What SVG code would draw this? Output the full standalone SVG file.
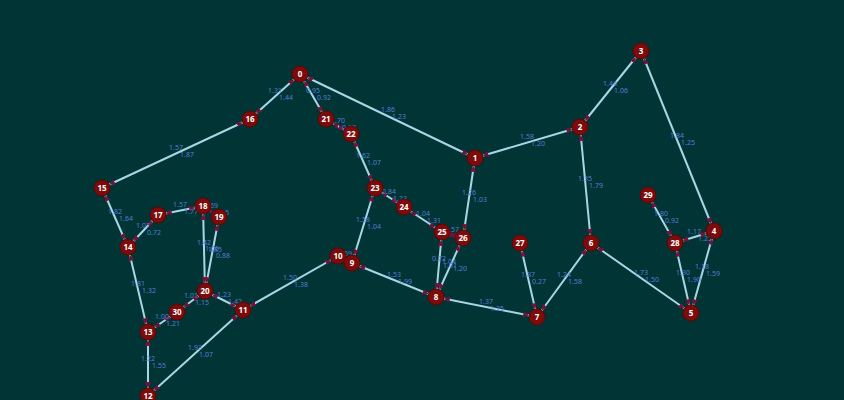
<svg xmlns="http://www.w3.org/2000/svg" width="844" height="400" viewBox="0 0 844 400">
<style>
.e{stroke:#a9d6e6;stroke-width:2;fill:none;marker-start:url(#ah);marker-end:url(#ah)}
.el{font-family:"Noto Sans","Liberation Sans",sans-serif;font-size:7px;fill:#4f7fd6;text-anchor:middle}
.n circle{fill:#7c0b0b;stroke:#5e0606;stroke-width:1}
.n text{font-family:"Noto Sans","Liberation Sans",sans-serif;font-size:8px;font-weight:bold;fill:#ffffff;text-anchor:middle}
</style>
<defs>
<marker id="ah" markerUnits="userSpaceOnUse" markerWidth="6" markerHeight="6" refX="14" refY="3" orient="auto-start-reverse">
<path d="M0,0 L6,3 L0,6 z" fill="#74123c"/>
</marker>
</defs>
<rect width="844" height="400" fill="#013434"/>
<g id="connectors">
<line class="e" x1="300" y1="74" x2="250" y2="119"/>
<line class="e" x1="300" y1="74" x2="326" y2="119"/>
<line class="e" x1="300" y1="74" x2="475" y2="158"/>
<line class="e" x1="250" y1="119" x2="102" y2="188"/>
<line class="e" x1="326" y1="119" x2="351" y2="134"/>
<line class="e" x1="351" y1="134" x2="375" y2="188"/>
<line class="e" x1="475" y1="158" x2="580" y2="127"/>
<line class="e" x1="580" y1="127" x2="641" y2="51"/>
<line class="e" x1="641" y1="51" x2="714" y2="231"/>
<line class="e" x1="475" y1="158" x2="463" y2="238"/>
<line class="e" x1="580" y1="127" x2="591" y2="243"/>
<line class="e" x1="375" y1="188" x2="404" y2="207"/>
<line class="e" x1="404" y1="207" x2="442" y2="232"/>
<line class="e" x1="442" y1="232" x2="463" y2="238"/>
<line class="e" x1="375" y1="188" x2="352" y2="263"/>
<line class="e" x1="442" y1="232" x2="436" y2="297"/>
<line class="e" x1="463" y1="238" x2="436" y2="297"/>
<line class="e" x1="352" y1="263" x2="436" y2="297"/>
<line class="e" x1="338" y1="256" x2="243" y2="310"/>
<line class="e" x1="352" y1="263" x2="338" y2="256"/>
<line class="e" x1="436" y1="297" x2="537" y2="317"/>
<line class="e" x1="520" y1="243" x2="537" y2="317"/>
<line class="e" x1="591" y1="243" x2="537" y2="317"/>
<line class="e" x1="591" y1="243" x2="691" y2="313"/>
<line class="e" x1="648" y1="195" x2="675" y2="243"/>
<line class="e" x1="675" y1="243" x2="714" y2="231"/>
<line class="e" x1="675" y1="243" x2="691" y2="313"/>
<line class="e" x1="714" y1="231" x2="691" y2="313"/>
<line class="e" x1="102" y1="188" x2="128" y2="247"/>
<line class="e" x1="128" y1="247" x2="158" y2="215"/>
<line class="e" x1="158" y1="215" x2="203" y2="206"/>
<line class="e" x1="203" y1="206" x2="219" y2="217"/>
<line class="e" x1="203" y1="206" x2="205" y2="291"/>
<line class="e" x1="219" y1="217" x2="205" y2="291"/>
<line class="e" x1="128" y1="247" x2="148" y2="332"/>
<line class="e" x1="205" y1="291" x2="177" y2="312"/>
<line class="e" x1="205" y1="291" x2="243" y2="310"/>
<line class="e" x1="177" y1="312" x2="148" y2="332"/>
<line class="e" x1="148" y1="332" x2="148" y2="396"/>
<line class="e" x1="243" y1="310" x2="148" y2="396"/>
</g>
<g id="edge-labels">
<text class="el" x="275" y="93">1.31</text><text class="el" x="286" y="100">1.44</text>
<text class="el" x="313" y="93">0.95</text><text class="el" x="324" y="100">0.92</text>
<text class="el" x="388" y="112">1.86</text><text class="el" x="399" y="119">1.23</text>
<text class="el" x="176" y="150">1.57</text><text class="el" x="187" y="157">1.87</text>
<text class="el" x="338" y="123">1.70</text><text class="el" x="349" y="130">0.93</text>
<text class="el" x="363" y="158">1.62</text><text class="el" x="374" y="165">1.07</text>
<text class="el" x="527" y="139">1.58</text><text class="el" x="538" y="146">1.20</text>
<text class="el" x="610" y="86">1.44</text><text class="el" x="621" y="93">1.06</text>
<text class="el" x="677" y="138">1.84</text><text class="el" x="688" y="145">1.25</text>
<text class="el" x="469" y="195">1.26</text><text class="el" x="480" y="202">1.03</text>
<text class="el" x="585" y="181">1.35</text><text class="el" x="596" y="188">1.79</text>
<text class="el" x="389" y="194">0.84</text><text class="el" x="400" y="201">1.23</text>
<text class="el" x="423" y="216">1.04</text><text class="el" x="434" y="223">1.31</text>
<text class="el" x="452" y="232">1.57</text>
<text class="el" x="363" y="222">1.58</text><text class="el" x="374" y="229">1.04</text>
<text class="el" x="439" y="261">0.72</text><text class="el" x="450" y="268">1.01</text>
<text class="el" x="449" y="264">1.04</text><text class="el" x="460" y="271">1.20</text>
<text class="el" x="394" y="277">1.53</text><text class="el" x="405" y="284">1.99</text>
<text class="el" x="290" y="280">1.50</text><text class="el" x="301" y="287">1.38</text>
<text class="el" x="345" y="256">1.59</text>
<text class="el" x="486" y="304">1.37</text><text class="el" x="497" y="311">1.25</text>
<text class="el" x="528" y="277">1.87</text><text class="el" x="539" y="284">0.27</text>
<text class="el" x="564" y="277">1.24</text><text class="el" x="575" y="284">1.58</text>
<text class="el" x="641" y="275">1.73</text><text class="el" x="652" y="282">1.50</text>
<text class="el" x="661" y="216">1.80</text><text class="el" x="672" y="223">0.92</text>
<text class="el" x="694" y="234">1.17</text><text class="el" x="705" y="241">1.25</text>
<text class="el" x="683" y="275">1.30</text><text class="el" x="694" y="282">1.90</text>
<text class="el" x="702" y="269">1.18</text><text class="el" x="713" y="276">1.59</text>
<text class="el" x="115" y="214">1.82</text><text class="el" x="126" y="221">1.64</text>
<text class="el" x="143" y="228">1.07</text><text class="el" x="154" y="235">0.72</text>
<text class="el" x="180" y="207">1.57</text><text class="el" x="191" y="214">1.77</text>
<text class="el" x="211" y="208">1.69</text><text class="el" x="222" y="215">1.15</text>
<text class="el" x="204" y="245">1.42</text><text class="el" x="215" y="252">1.85</text>
<text class="el" x="212" y="251">1.06</text><text class="el" x="223" y="258">0.88</text>
<text class="el" x="138" y="286">1.81</text><text class="el" x="149" y="293">1.32</text>
<text class="el" x="191" y="298">1.01</text><text class="el" x="202" y="305">1.15</text>
<text class="el" x="224" y="297">1.23</text><text class="el" x="235" y="304">1.42</text>
<text class="el" x="162" y="319">1.00</text><text class="el" x="173" y="326">1.21</text>
<text class="el" x="148" y="361">1.22</text><text class="el" x="159" y="368">1.55</text>
<text class="el" x="195" y="350">1.93</text><text class="el" x="206" y="357">1.07</text>
</g>
<g id="node-0" class="n"><circle cx="300" cy="74" r="8"/><text x="300" y="77">0</text></g>
<g id="node-1" class="n"><circle cx="475" cy="158" r="8"/><text x="475" y="161">1</text></g>
<g id="node-2" class="n"><circle cx="580" cy="127" r="8"/><text x="580" y="130">2</text></g>
<g id="node-3" class="n"><circle cx="641" cy="51" r="8"/><text x="641" y="54">3</text></g>
<g id="node-4" class="n"><circle cx="714" cy="231" r="8"/><text x="714" y="234">4</text></g>
<g id="node-5" class="n"><circle cx="691" cy="313" r="8"/><text x="691" y="316">5</text></g>
<g id="node-6" class="n"><circle cx="591" cy="243" r="8"/><text x="591" y="246">6</text></g>
<g id="node-7" class="n"><circle cx="537" cy="317" r="8"/><text x="537" y="320">7</text></g>
<g id="node-8" class="n"><circle cx="436" cy="297" r="8"/><text x="436" y="300">8</text></g>
<g id="node-9" class="n"><circle cx="352" cy="263" r="8"/><text x="352" y="266">9</text></g>
<g id="node-10" class="n"><circle cx="338" cy="256" r="8"/><text x="338" y="259">10</text></g>
<g id="node-11" class="n"><circle cx="243" cy="310" r="8"/><text x="243" y="313">11</text></g>
<g id="node-12" class="n"><circle cx="148" cy="396" r="8"/><text x="148" y="399">12</text></g>
<g id="node-13" class="n"><circle cx="148" cy="332" r="8"/><text x="148" y="335">13</text></g>
<g id="node-14" class="n"><circle cx="128" cy="247" r="8"/><text x="128" y="250">14</text></g>
<g id="node-15" class="n"><circle cx="102" cy="188" r="8"/><text x="102" y="191">15</text></g>
<g id="node-16" class="n"><circle cx="250" cy="119" r="8"/><text x="250" y="122">16</text></g>
<g id="node-17" class="n"><circle cx="158" cy="215" r="8"/><text x="158" y="218">17</text></g>
<g id="node-18" class="n"><circle cx="203" cy="206" r="8"/><text x="203" y="209">18</text></g>
<g id="node-19" class="n"><circle cx="219" cy="217" r="8"/><text x="219" y="220">19</text></g>
<g id="node-20" class="n"><circle cx="205" cy="291" r="8"/><text x="205" y="294">20</text></g>
<g id="node-21" class="n"><circle cx="326" cy="119" r="8"/><text x="326" y="122">21</text></g>
<g id="node-22" class="n"><circle cx="351" cy="134" r="8"/><text x="351" y="137">22</text></g>
<g id="node-23" class="n"><circle cx="375" cy="188" r="8"/><text x="375" y="191">23</text></g>
<g id="node-24" class="n"><circle cx="404" cy="207" r="8"/><text x="404" y="210">24</text></g>
<g id="node-25" class="n"><circle cx="442" cy="232" r="8"/><text x="442" y="235">25</text></g>
<g id="node-26" class="n"><circle cx="463" cy="238" r="8"/><text x="463" y="241">26</text></g>
<g id="node-27" class="n"><circle cx="520" cy="243" r="8"/><text x="520" y="246">27</text></g>
<g id="node-28" class="n"><circle cx="675" cy="243" r="8"/><text x="675" y="246">28</text></g>
<g id="node-29" class="n"><circle cx="648" cy="195" r="8"/><text x="648" y="198">29</text></g>
<g id="node-30" class="n"><circle cx="177" cy="312" r="8"/><text x="177" y="315">30</text></g>
</svg>
